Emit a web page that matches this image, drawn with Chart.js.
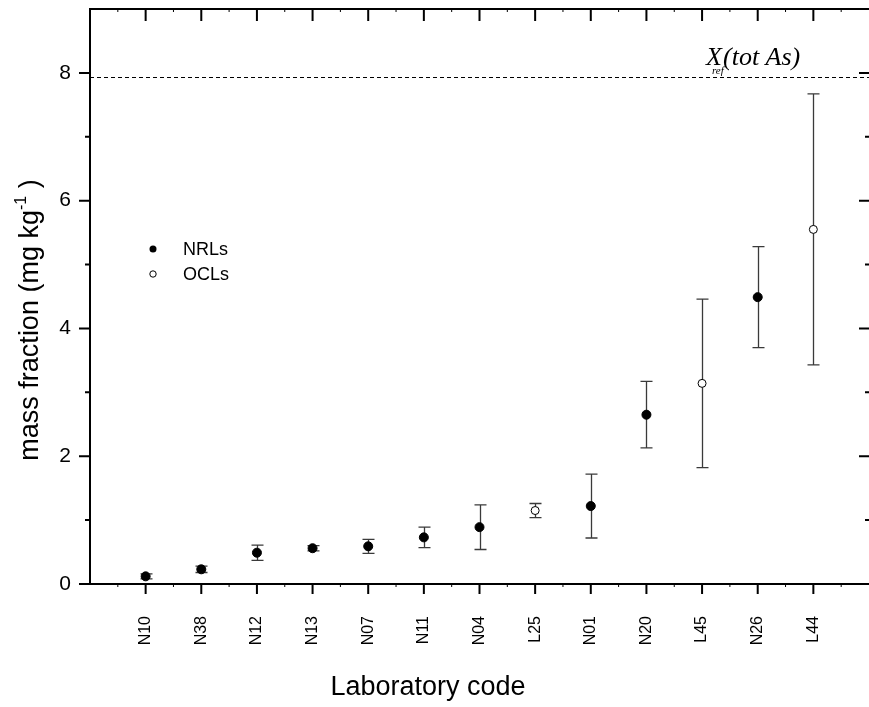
<!DOCTYPE html>
<html>
<head>
<meta charset="utf-8">
<script src="https://cdn.jsdelivr.net/npm/chart.js@4.4.0/dist/chart.umd.min.js"></script>
<style>
  html, body { margin: 0; padding: 0; background: #fff; }
  canvas { display: block; }
</style>
</head>
<body>
<canvas id="labChart" width="869" height="707"></canvas>
<script>
// lab results, total As (mg/kg) with expanded uncertainty
const labCodes = ['N10', 'N38', 'N12', 'N13', 'N07', 'N11', 'N04', 'L25', 'N01', 'N20', 'L45', 'N26', 'L44'];
const massFraction = [0.12, 0.23, 0.49, 0.56, 0.59, 0.73, 0.89, 1.15, 1.22, 2.65, 3.14, 4.49, 5.55];
const uncertainty = [0.04, 0.05, 0.12, 0.04, 0.11, 0.16, 0.35, 0.11, 0.50, 0.52, 1.32, 0.79, 2.12];
const refValue = 7.93; // X_ref (tot As)

// N = national reference lab, L = official control lab
const nrlPoints = [];
const oclPoints = [];
labCodes.forEach((code, i) => {
    const p = { x: i + 1, y: massFraction[i] };
    if (code[0] === 'N') nrlPoints.push(p); else oclPoints.push(p);
});

const AXIS = '#000';

// no extra room around the plot for tick labels
function noPad(s) {
    s.paddingLeft = 0;
    s.paddingRight = 0;
    s.paddingTop = 0;
    s.paddingBottom = 0;
}

// error bars go under the markers
const errorBars = {
    id: 'errorBars',
    beforeDatasetsDraw(chart) {
        const { ctx, scales: { x, y } } = chart;
        ctx.save();
        ctx.strokeStyle = '#3a3a3a';
        ctx.lineWidth = 1.3;
        massFraction.forEach((v, i) => {
            const px = Math.round(x.getPixelForValue(i + 1)) + 0.5;
            const top = y.getPixelForValue(v + uncertainty[i]);
            const bot = y.getPixelForValue(v - uncertainty[i]);
            ctx.beginPath();
            ctx.moveTo(px, top); ctx.lineTo(px, bot);
            ctx.moveTo(px - 6, top); ctx.lineTo(px + 6, top);
            ctx.moveTo(px - 6, bot); ctx.lineTo(px + 6, bot);
            ctx.stroke();
        });
        ctx.restore();
    }
};

// frame, tick marks, reference line, legend and y title
const frame = {
    id: 'frame',
    afterDraw(chart) {
        const { ctx, chartArea: a, scales: { x, y } } = chart;
        ctx.save();
        ctx.strokeStyle = AXIS;

        // top axis line (right one sits just past the canvas edge)
        ctx.lineWidth = 2;
        ctx.beginPath();
        ctx.moveTo(a.left, a.top); ctx.lineTo(a.right, a.top);
        ctx.moveTo(a.right + 2, a.top); ctx.lineTo(a.right + 2, a.bottom);
        ctx.stroke();

        // x ticks: major at each lab, minor halfway
        ctx.lineWidth = 2;
        ctx.beginPath();
        for (let i = 1; i <= labCodes.length; i++) {
            const px = x.getPixelForValue(i);
            ctx.moveTo(px, a.bottom); ctx.lineTo(px, a.bottom + 10);
            ctx.moveTo(px, a.top); ctx.lineTo(px, a.top + 12);
        }
        ctx.stroke();
        ctx.lineWidth = 1;
        ctx.beginPath();
        for (let i = 0.5; i < 14; i += 1) {
            const px = x.getPixelForValue(i);
            ctx.moveTo(px, a.bottom); ctx.lineTo(px, a.bottom + 3);
            ctx.moveTo(px, a.top); ctx.lineTo(px, a.top + 3);
        }
        ctx.stroke();

        // y ticks: major every 2, minor on odd values
        for (let v = 0; v <= 8; v++) {
            const py = y.getPixelForValue(v);
            const major = v % 2 === 0;
            ctx.lineWidth = 2;
            ctx.beginPath();
            ctx.moveTo(a.left, py); ctx.lineTo(a.left - (major ? 11 : 5), py);
            ctx.moveTo(a.right, py); ctx.lineTo(a.right - (major ? 10 : 4), py);
            ctx.stroke();
        }

        // reference value
        const ry = Math.round(y.getPixelForValue(refValue)) + 0.5;
        ctx.lineWidth = 1;
        ctx.setLineDash([4, 3]);
        ctx.beginPath();
        ctx.moveTo(a.left, ry); ctx.lineTo(a.right, ry);
        ctx.stroke();
        ctx.setLineDash([]);

        ctx.fillStyle = '#000';
        ctx.textBaseline = 'alphabetic';
        ctx.textAlign = 'left';
        ctx.font = 'italic 26px "Liberation Serif", "Times New Roman", serif';
        ctx.fillText('X', 706, ry - 13);
        ctx.font = 'italic 11px "Liberation Serif", "Times New Roman", serif';
        ctx.fillText('ref', 712, ry - 4);
        ctx.font = 'italic 26px "Liberation Serif", "Times New Roman", serif';
        ctx.fillText('(tot As)', 723, ry - 13);

        // legend
        ctx.font = '18px "Liberation Sans", Arial, sans-serif';
        ctx.textBaseline = 'middle';
        ctx.beginPath();
        ctx.arc(153, 249, 3.5, 0, Math.PI * 2);
        ctx.fill();
        ctx.fillText('NRLs', 183, 250);
        ctx.beginPath();
        ctx.arc(153, 274, 3.2, 0, Math.PI * 2);
        ctx.lineWidth = 1;
        ctx.stroke();
        ctx.fillText('OCLs', 183, 275);

        // x title
        ctx.font = '27px "Liberation Sans", Arial, sans-serif';
        ctx.textBaseline = 'alphabetic';
        ctx.textAlign = 'center';
        ctx.fillText('Laboratory code', 428, 695);

        // y title with superscript
        ctx.translate(38, 320);
        ctx.rotate(-Math.PI / 2);
        ctx.textAlign = 'left';
        const big = '27px "Liberation Sans", Arial, sans-serif';
        const small = '16px "Liberation Sans", Arial, sans-serif';
        ctx.font = big;
        const w1 = ctx.measureText('mass fraction (mg kg').width;
        const w3 = ctx.measureText(' )').width;
        ctx.font = small;
        const w2 = ctx.measureText('-1').width;
        let tx = -(w1 + w2 + w3) / 2;
        ctx.font = big;
        ctx.fillText('mass fraction (mg kg', tx, 0);
        tx += w1;
        ctx.font = small;
        ctx.fillText('-1', tx, -12);
        tx += w2;
        ctx.font = big;
        ctx.fillText(' )', tx, 0);

        ctx.restore();
    }
};

new Chart(document.getElementById('labChart'), {
    type: 'scatter',
    data: {
        datasets: [
            {
                label: 'NRLs',
                data: nrlPoints,
                pointRadius: 4.5,
                pointBackgroundColor: '#000',
                pointBorderColor: '#000',
                pointBorderWidth: 1
            },
            {
                label: 'OCLs',
                data: oclPoints,
                pointRadius: 4,
                pointBackgroundColor: '#fff',
                pointBorderColor: '#000',
                pointBorderWidth: 1
            }
        ]
    },
    options: {
        responsive: false,
        animation: false,
        layout: { autoPadding: false, padding: { top: 9, right: 0, left: 0, bottom: 0 } },
        plugins: { legend: { display: false }, tooltip: { enabled: false } },
        scales: {
            x: {
                type: 'linear',
                min: 0,
                max: 14,
                afterFit: s => { s.height = 123; noPad(s); },
                grid: { display: false, drawTicks: false },
                border: { display: true, color: AXIS, width: 2 },
                ticks: {
                    stepSize: 1,
                    includeBounds: false,
                    autoSkip: false,
                    maxRotation: 90,
                    minRotation: 90,
                    padding: 32,
                    color: '#000',
                    font: { family: '"Liberation Sans", Arial, sans-serif', size: 16 },
                    callback: v => labCodes[v - 1] || ''
                }
            },
            y: {
                min: 0,
                max: 9,
                afterFit: s => { s.width = 90; noPad(s); },
                grid: { display: false, drawTicks: false },
                border: { display: true, color: AXIS, width: 2 },
                ticks: {
                    stepSize: 2,
                    includeBounds: false,
                    padding: 19,
                    color: '#000',
                    font: { family: '"Liberation Sans", Arial, sans-serif', size: 21 }
                }
            }
        }
    },
    plugins: [errorBars, frame]
});
</script>
</body>
</html>
